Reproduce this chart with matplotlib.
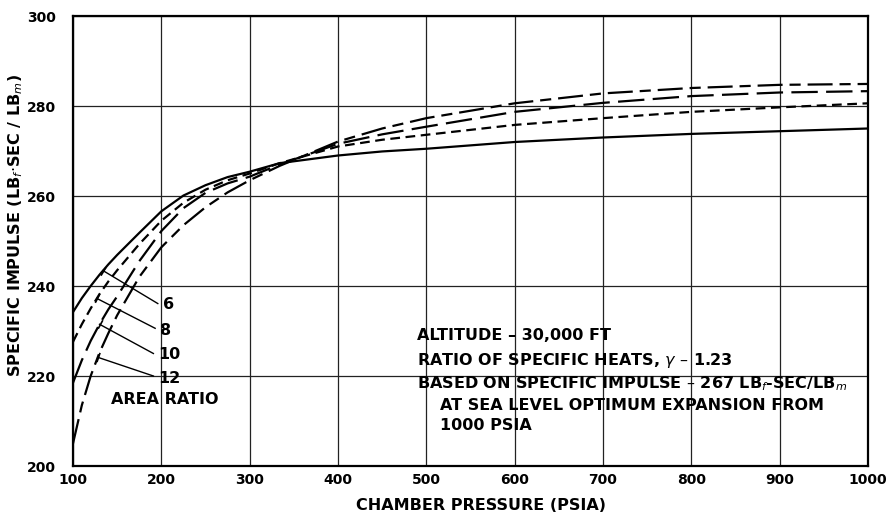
import numpy as np
import matplotlib
matplotlib.use('Agg')
import matplotlib.pyplot as plt

# chamber pressure (psia) and specific impulse, one list per area ratio
pressure = [100, 110, 120, 130, 140, 150, 175, 200, 225, 250, 275, 300, 334,
            400, 450, 500, 600, 700, 800, 900, 1000]
isp_6 = [234.2, 237.3, 240.0, 242.5, 244.8, 246.9, 251.8, 256.6, 260.1, 262.4,
         264.2, 265.4, 267.3, 269.0, 269.9, 270.5, 272.0, 273.0, 273.8, 274.4, 275.0]
isp_8 = [227.6, 231.5, 235.0, 238.2, 241.0, 243.5, 249.3, 254.5, 258.5, 261.4,
         263.5, 265.0, 267.3, 271.0, 272.5, 273.6, 275.8, 277.3, 278.7, 279.7, 280.6]
isp_10 = [218.5, 223.5, 227.8, 231.5, 234.8, 237.7, 245.5, 252.2, 257.3, 260.7,
          262.8, 264.3, 267.0, 271.6, 273.7, 275.4, 278.7, 280.7, 282.2, 283.0, 283.3]
isp_12 = [205.0, 213.5, 220.0, 225.2, 229.5, 233.5, 242.0, 248.6, 253.5, 257.5,
          260.8, 263.5, 266.7, 272.1, 275.0, 277.3, 280.6, 282.8, 284.0, 284.7, 284.9]

area_ratios = ['6', '8', '10', '12']
# where each leader touches its curve, and where it ends next to the label
leader_start_p = [134, 127, 130, 128]
leader_end_p = [196, 193, 191, 191]
leader_end_isp = [236.1, 230.6, 225.0, 220.0]
label_isp = [235.8, 230.2, 224.7, 219.5]

notes = ['ALTITUDE \u2013 30,000 FT',
         'RATIO OF SPECIFIC HEATS, $\\gamma$ \u2013 1.23',
         'BASED ON SPECIFIC IMPULSE \u2013 267 LB$_f$-SEC/LB$_m$',
         'AT SEA LEVEL OPTIMUM EXPANSION FROM',
         '1000 PSIA']
notes_x = [490, 490, 490, 516, 516]
notes_y = [228.9, 223.4, 218.2, 213.4, 208.9]

plt.rcParams['lines.scale_dashes'] = False
plt.rcParams['font.family'] = ['DejaVu Sans']
font = dict(fontsize=11.5, fontweight='bold')

fig = plt.figure(figsize=(8.92, 5.2), dpi=100)
ax = fig.add_axes([73 / 892, 1 - 466 / 520, (868 - 73) / 892, (466 - 16) / 520])

series = [isp_6, isp_8, isp_10, isp_12]
dashes = [None, (7, 4), (19, 6), (18, 5, 8, 5)]
for vals, d in zip(series, dashes):
    line, = ax.plot(pressure, vals, color='black', lw=1.6)
    if d is not None:
        line.set_dashes(d)

ax.set_xlim(100, 1000)
ax.set_ylim(200, 300)
ax.set_xticks(np.arange(100, 1001, 100))
ax.set_yticks(np.arange(200, 301, 20))
ax.grid(True, color='#222222', lw=0.9)
ax.tick_params(length=0, labelsize=10)
ax.tick_params(axis='y', pad=12)
ax.tick_params(axis='x', pad=5)
for lab in ax.get_xticklabels() + ax.get_yticklabels():
    lab.set_fontweight('semibold')
for s in ax.spines.values():
    s.set_linewidth(1.6)

ax.set_xlabel('CHAMBER PRESSURE (PSIA)', fontsize=11.5, fontweight='bold')
ax.xaxis.set_label_coords(0.513, -0.07)
ax.set_ylabel('SPECIFIC IMPULSE (LB$_f$$\\cdot$SEC / LB$_m$)', fontsize=11.5, fontweight='bold')
ax.yaxis.set_label_coords(-0.06, 0.535)

# leader lines from each curve to its area-ratio label
fig.canvas.draw()
for vals, name, p0, p1, i1, iy in zip(series, area_ratios, leader_start_p,
                                      leader_end_p, leader_end_isp, label_isp):
    i0 = np.interp(p0, pressure, vals)
    ax.plot([p0, p1], [i0, i1], color='black', lw=1.0)
    a = ax.transData.transform([(p0, i0), (p1, i1)])
    ang = np.degrees(np.arctan2(a[1, 1] - a[0, 1], a[1, 0] - a[0, 0]))
    ax.plot([p0], [i0], marker=(2, 0, ang), ms=7, mew=1.2, color='black')
    ax.text(p1 + 6, iy, name, ha='left', va='center', **font)
ax.text(204, 214.7, 'AREA RATIO', ha='center', va='center', **font)

for t, x, y in zip(notes, notes_x, notes_y):
    ax.text(x, y, t, ha='left', va='center', **font)

fig.savefig('out.png', dpi=100)
